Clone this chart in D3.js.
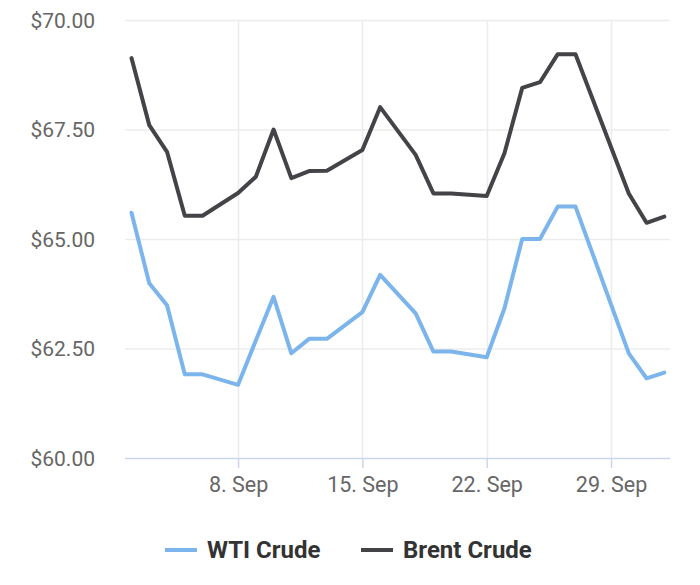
<!DOCTYPE html>
<html><head><meta charset="utf-8">
<script src="https://cdn.jsdelivr.net/npm/d3@7"></script>
<style>body{margin:0;background:#fff;}svg{display:block;font-family:Roboto,"Noto Sans",sans-serif;}</style>
</head><body>
<svg id="c" width="700" height="585"></svg>
<script>
const dates = ["2025-09-02","2025-09-03","2025-09-04","2025-09-05","2025-09-06","2025-09-08","2025-09-09","2025-09-10","2025-09-11","2025-09-12","2025-09-13","2025-09-15","2025-09-16","2025-09-18","2025-09-19","2025-09-20","2025-09-22","2025-09-23","2025-09-24","2025-09-25","2025-09-26","2025-09-27","2025-09-30","2025-10-01","2025-10-02"];
const wti   = [65.60,63.99,63.49,61.91,61.91,61.67,62.68,63.68,62.39,62.72,62.72,63.33,64.18,63.30,62.43,62.43,62.30,63.42,65.00,65.00,65.74,65.74,62.39,61.82,61.95];
const brent = [69.13,67.60,66.99,65.53,65.53,66.05,66.42,67.50,66.39,66.55,66.56,67.03,68.01,66.92,66.04,66.04,65.98,66.96,68.45,68.58,69.22,69.22,66.04,65.37,65.51];
const yTicks = [60,62.5,65,67.5,70];
const xTicks = ["2025-09-08","2025-09-15","2025-09-22","2025-09-29"];
const seriesNames = ["WTI Crude","Brent Crude"];
const colors = ["#7cb5ec","#434348"];

const parse = d3.utcParse("%Y-%m-%d");
const svg = d3.select("#c");
const plotL = 125, plotR = 670, plotT = 20, plotB = 458;
const x = d3.scaleUtc().domain([parse("2025-09-02"), parse("2025-10-02")]).range([131.5, 664.3]);
const y = d3.scaleLinear().domain([60,70]).range([plotB, plotT]);

// horizontal grid
svg.append("g").selectAll("line").data(yTicks.filter(v=>v!==60)).join("line")
  .attr("x1",plotL).attr("x2",plotR).attr("y1",d=>y(d)+0.5).attr("y2",d=>y(d)+0.5)
  .attr("stroke","#ececec").attr("stroke-width",1.5);
// vertical grid
svg.append("g").selectAll("line").data(xTicks).join("line")
  .attr("x1",d=>Math.round(x(parse(d)))+0.5).attr("x2",d=>Math.round(x(parse(d)))+0.5)
  .attr("y1",plotT).attr("y2",plotB)
  .attr("stroke","#ececec").attr("stroke-width",1.5);

// y axis labels
const yAxis = d3.axisLeft(y).tickValues(yTicks).tickSize(0).tickPadding(0).tickFormat(d=>"$"+d3.format(".2f")(d));
const gy = svg.append("g").attr("transform",`translate(95,0)`).call(yAxis);
gy.select(".domain").remove();
gy.selectAll("text").attr("font-size",21).attr("fill","#666").attr("dy","0.35em").attr("font-family","Roboto");

// x axis
const xAxis = d3.axisBottom(x).tickValues(xTicks.map(parse)).tickSize(10).tickPadding(9)
  .tickFormat(d=>d3.utcFormat("%-d. %b")(d));
const gx = svg.append("g").attr("transform",`translate(0,${plotB})`).call(xAxis);
gx.select(".domain").attr("d",`M${plotL},0.5H${plotR}`).attr("stroke","#ccd6eb").attr("stroke-width",1.5);
gx.selectAll(".tick line").attr("stroke","#ccd6eb").attr("stroke-width",1.5);
gx.selectAll("text").attr("font-size",21.5).attr("fill","#666").attr("font-family","Roboto").attr("dy","0.71em");

// lines
const line = d3.line().x((d,i)=>x(parse(dates[i]))).y(d=>y(d)).curve(d3.curveLinear);
[wti,brent].forEach((s,k)=>{
  svg.append("path").attr("d",line(s)).attr("fill","none").attr("stroke",colors[k])
    .attr("stroke-width",4).attr("stroke-linejoin","round").attr("stroke-linecap","round");
});

// legend
const legX = [165, 361];
const lg = svg.append("g");
seriesNames.forEach((n,k)=>{
  lg.append("line").attr("x1",legX[k]).attr("x2",legX[k]+32).attr("y1",550).attr("y2",550)
    .attr("stroke",colors[k]).attr("stroke-width",4);
  lg.append("text").attr("x",legX[k]+42).attr("y",558).text(n)
    .attr("font-size",24).attr("font-weight","bold").attr("fill","#333").attr("font-family","Roboto");
});
</script>
</body></html>
